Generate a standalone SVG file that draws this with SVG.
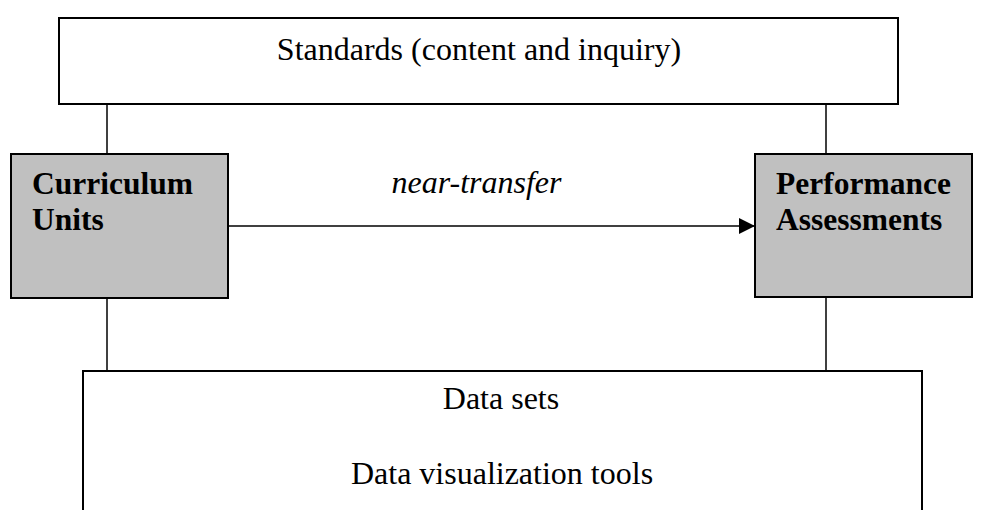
<svg xmlns="http://www.w3.org/2000/svg" width="985" height="510" viewBox="0 0 985 510">
<defs>
<style>
.box{fill:#fff;stroke:#000;stroke-width:2}
.gbox{fill:#c0c0c0;stroke:#000;stroke-width:2}
.t{font-family:"Liberation Serif","Times New Roman",serif;font-size:32px;fill:#000}
.b{font-family:"Liberation Serif","Times New Roman",serif;font-size:31.5px;font-weight:bold;fill:#000}
.i{font-style:italic}
.c{stroke:#000;stroke-width:1.5;fill:none}
</style>
<marker id="ah" markerWidth="16" markerHeight="16" refX="16" refY="8" orient="auto" markerUnits="userSpaceOnUse">
<path d="M0,0 L16,8 L0,16 Z" fill="#000"/>
</marker>
</defs>
<g id="connectors">
<line class="c" x1="107" y1="104" x2="107" y2="154"/>
<line class="c" x1="826" y1="104" x2="826" y2="154"/>
<line class="c" x1="107" y1="298" x2="107" y2="371"/>
<line class="c" x1="826" y1="298" x2="826" y2="371"/>
<line class="c" x1="228" y1="226" x2="755" y2="226" marker-end="url(#ah)"/>
<text class="t i" x="476.5" y="193" text-anchor="middle">near-transfer</text>
</g>
<g id="standards">
<rect class="box" x="59" y="18" width="839" height="86"/>
<text class="t" x="479" y="60" text-anchor="middle">Standards (content and inquiry)</text>
</g>
<g id="curriculum">
<rect class="gbox" x="11" y="154" width="217" height="144"/>
<text class="b" x="32" y="194">Curriculum</text>
<text class="b" x="32" y="230">Units</text>
</g>
<g id="performance">
<rect class="gbox" x="755" y="154" width="217" height="143"/>
<text class="b" x="776" y="194">Performance</text>
<text class="b" x="776" y="230">Assessments</text>
</g>
<g id="data">
<rect class="box" x="83" y="371" width="839" height="150"/>
<text class="t" x="501" y="409" text-anchor="middle">Data sets</text>
<text class="t" x="502" y="484" text-anchor="middle">Data visualization tools</text>
</g>
</svg>
